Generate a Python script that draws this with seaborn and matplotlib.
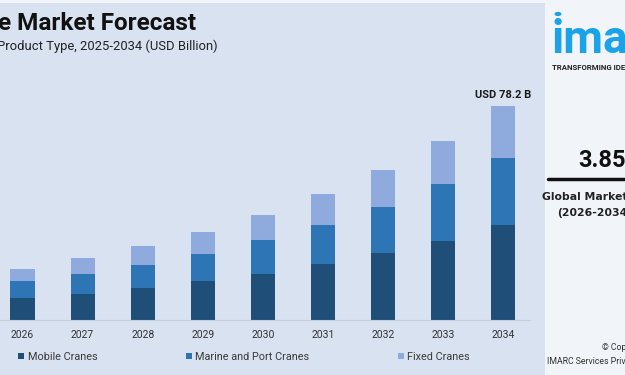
import matplotlib.pyplot as plt
import numpy as np
import pandas as pd
import seaborn as sns
from matplotlib.patches import Patch, Rectangle

# Data (USD Billion)
years = ['2026', '2027', '2028', '2029', '2030', '2031', '2032', '2033', '2034']
mobile = [8.2, 9.6, 11.8, 14.1, 16.8, 20.4, 24.4, 29.0, 34.7]
marine = [6.0, 7.2, 8.2, 10.0, 12.4, 14.4, 16.9, 20.6, 24.4]
fixed = [4.5, 5.7, 6.9, 7.9, 9.2, 11.1, 13.5, 15.9, 19.1]
series_names = ['Mobile Cranes', 'Marine and Port Cranes', 'Fixed Cranes']
end_label = 'USD 78.2 B'

bg = '#d9e2f1'
colors = ['#1f4e79', '#2e75b6', '#8faadc']

sns.set_theme(style='white')
plt.rcParams['font.family'] = ['Roboto', 'DejaVu Sans']

df = pd.DataFrame({'Year': years, 'Mobile': mobile, 'Marine': marine, 'Fixed': fixed})
df['c1'] = df['Mobile']
df['c2'] = df['Mobile'] + df['Marine']
df['c3'] = df['c2'] + df['Fixed']

fig = plt.figure(figsize=(6.25, 3.75), dpi=100)
fig.patch.set_facecolor(bg)
ax = fig.add_axes([0, 55 / 375, 530 / 625, 230 / 375])
ax.set_facecolor(bg)

# stacked bars by overdrawing cumulative totals
for col, c in zip(['c3', 'c2', 'c1'], colors[::-1]):
    sns.barplot(data=df, x='Year', y=col, order=years, color=c, width=0.4,
                saturation=1, ax=ax, linewidth=0)

ax.set_xlim(-22.5 / 60.1, (530 - 22.5) / 60.1)
ax.set_ylim(0, 230 * 78.2 / 214)
ax.set_xlabel('')
ax.set_ylabel('')
ax.set_yticks([])
ax.tick_params(axis='x', length=0, pad=7, labelsize=7.5, labelcolor='#333333')
for s in ['top', 'right', 'left']:
    ax.spines[s].set_visible(False)
ax.spines['bottom'].set_color('#c5cedb')
ax.spines['bottom'].set_linewidth(0.8)

ax.text(len(years) - 1, df['c3'].iloc[-1] + 2.3, end_label, ha='center', va='bottom',
        fontsize=8, fontweight='bold', color='#1a1a1a')

# legend
handles = [Patch(facecolor=c, edgecolor='none') for c in colors]
fig.legend(handles, series_names, loc='center left', bbox_to_anchor=(13 / 625, 1 - 357 / 375),
           ncol=3, frameon=False, fontsize=7.8, handlelength=0.55, handleheight=0.55,
           handletextpad=0.3, columnspacing=8.2, labelcolor='#3a3a3a', borderpad=0)

# title block
fig.text(-2 / 625, 1 - 24 / 375, 'e Market Forecast', fontsize=17.5, fontweight='bold',
         color='#111111', va='center', ha='left')
fig.text(-3 / 625, 1 - 46 / 375, 'Product Type, 2025-2034 (USD Billion)', fontsize=9.4,
         color='#222222', va='center', ha='left')
fig.patches.append(Rectangle((0, 1 - 3 / 375), 545 / 625, 3 / 375, transform=fig.transFigure,
                             facecolor='#f2f5fa', edgecolor='none', zorder=0))

# right info panel
panel_font = ['DejaVu Sans']
fig.patches.append(Rectangle((545 / 625, 0), 80 / 625, 1, transform=fig.transFigure,
                             facecolor='#f1f4f8', edgecolor='none', zorder=0))
fig.patches.append(plt.Circle((558 / 625, 1 - 14 / 375), 3.5 / 625, transform=fig.transFigure,
                              facecolor='#1aa3e8', edgecolor='none'))
fig.text(551 / 625, 1 - 40 / 375, 'imarc', fontsize=33, fontweight='bold', color='#1aa3e8',
         va='center', ha='left')
fig.text(552 / 625, 1 - 67 / 375, 'TRANSFORMING IDEAS', fontsize=5.6, fontweight='bold',
         color='#222222', va='center', ha='left')
fig.text(578 / 625, 1 - 160 / 375, '3.85%', fontsize=17, fontweight='bold', color='#111111',
         va='center', ha='left')
fig.lines.append(plt.Line2D([548 / 625, 1], [1 - 179 / 375] * 2, transform=fig.transFigure,
                            color='#111111', linewidth=2.5))
fig.text(542 / 625, 1 - 197 / 375, 'Global Market Growth Rate', fontsize=7.8, fontweight='bold',
         color='#222222', va='center', ha='left', family=panel_font)
fig.text(557 / 625, 1 - 213 / 375, '(2026-2034)', fontsize=7.8, fontweight='bold',
         color='#222222', va='center', ha='left', family=panel_font)
fig.text(602 / 625, 1 - 348 / 375, '© Copyright', fontsize=6.2, color='#333333',
         va='center', ha='left')
fig.text(547 / 625, 1 - 362 / 375, 'IMARC Services Private Limited', fontsize=6.3,
         color='#333333', va='center', ha='left')

fig.savefig('out.png', dpi=100, facecolor=bg)
